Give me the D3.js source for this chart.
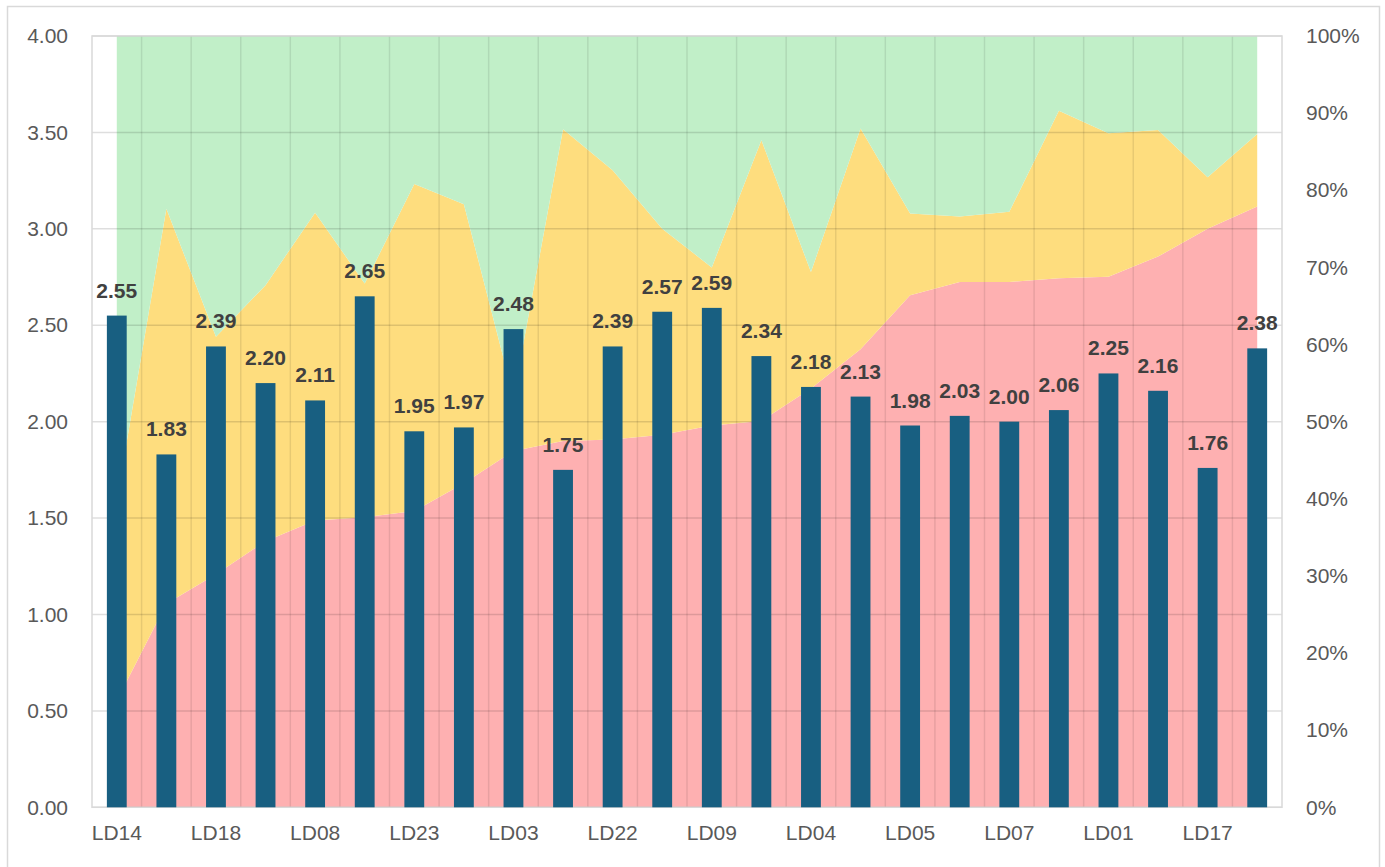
<!DOCTYPE html>
<html>
<head>
<meta charset="utf-8">
<script src="https://cdn.jsdelivr.net/npm/d3@7"></script>
<style>
  body { margin: 0; background: #fff; }
  svg { display: block; font-family: "Liberation Sans", Arial, sans-serif; }
</style>
</head>
<body>
<div id="container"></div>
<script>
let width = 1385;
let height = 867;

// categories (only every other one is labelled on the axis)
let categories = ["LD14", "LD02", "LD18", "LD06", "LD08", "LD10", "LD23", "LD11",
  "LD03", "LD12", "LD22", "LD13", "LD09", "LD15", "LD04", "LD16",
  "LD05", "LD19", "LD07", "LD20", "LD01", "LD21", "LD17", "LD24"];

// bar values (left axis)
let scores = [2.55, 1.83, 2.39, 2.20, 2.11, 2.65, 1.95, 1.97, 2.48, 1.75, 2.39, 2.57,
  2.59, 2.34, 2.18, 2.13, 1.98, 2.03, 2.00, 2.06, 2.25, 2.16, 1.76, 2.38];

// stacked shares in percent (right axis)
let redShare = [13.8, 26.4, 30.2, 34.5, 37.2, 37.6, 38.4, 42.0, 46.2, 47.5, 47.7, 48.3,
  49.5, 50.1, 54.3, 59.4, 66.4, 68.1, 68.1, 68.6, 68.8, 71.4, 75.0, 77.9];
let yellowShare = [26.0, 51.2, 30.8, 33.2, 39.9, 30.3, 42.4, 36.2, 7.0, 40.4, 34.9, 26.7,
  20.5, 36.4, 15.1, 28.6, 10.6, 8.5, 9.1, 21.7, 18.6, 16.4, 6.7, 9.4];
let greenShare = [60.2, 22.4, 39.0, 32.3, 22.9, 32.1, 19.2, 21.8, 46.8, 12.1, 17.4, 25.0,
  30.0, 13.5, 30.6, 12.0, 23.0, 23.4, 22.8, 9.7, 12.6, 12.2, 18.3, 12.7];

let leftTicks = [0, 0.5, 1, 1.5, 2, 2.5, 3, 3.5, 4];
let rightTicks = [0, 10, 20, 30, 40, 50, 60, 70, 80, 90, 100];

let margin = { left: 92, right: 103, top: 36, bottom: 60 };

let svg = d3.select("#container")
  .append("svg")
  .attr("width", width)
  .attr("height", height);

// chart border
svg.append("rect")
  .attr("x", 7.5).attr("y", 6.5)
  .attr("width", 1372).attr("height", 870)
  .attr("fill", "none")
  .attr("stroke", "#d9d9d9")
  .attr("stroke-width", 1.5);

let x = d3.scaleBand()
  .domain(categories)
  .range([margin.left, width - margin.right])
  .padding(0);

let yLeft = d3.scaleLinear()
  .domain([0, 4])
  .range([807.3, margin.top]);

let yRight = d3.scaleLinear()
  .domain([0, 100])
  .range([807.3, margin.top]);

let cx = function (c) { return x(c) + x.bandwidth() / 2 };

// stacked areas
let rows = categories.map(function (c, i) {
  return { cat: c, red: redShare[i], yellow: yellowShare[i], green: greenShare[i] };
});
let stack = d3.stack().keys(["red", "yellow", "green"]);
let layers = stack(rows);
let colors = { red: "#feb0b1", yellow: "#fedd7e", green: "#c1efc8" };

let area = d3.area()
  .x(function (d) { return cx(d.data.cat) })
  .y0(function (d) { return yRight(d[0]) })
  .y1(function (d) { return yRight(d[1]) });

svg.append("g")
  .selectAll("path")
  .data(layers)
  .enter().append("path")
  .attr("d", area)
  .attr("fill", function (d) { return colors[d.key] });

// gridlines
let grid = svg.append("g");
grid.selectAll("line.h")
  .data(leftTicks)
  .enter().append("line")
  .attr("x1", margin.left).attr("x2", width - margin.right)
  .attr("y1", function (d) { return yLeft(d) })
  .attr("y2", function (d) { return yLeft(d) })
  .attr("stroke", "rgba(0,0,0,0.13)")
  .attr("stroke-width", 1.5);

grid.selectAll("line.v")
  .data(categories.slice(1))
  .enter().append("line")
  .attr("x1", function (d) { return x(d) })
  .attr("x2", function (d) { return x(d) })
  .attr("y1", margin.top).attr("y2", yLeft(0))
  .attr("stroke", "rgba(0,0,0,0.09)")
  .attr("stroke-width", 1.5);

// plot border
svg.append("rect")
  .attr("x", margin.left).attr("y", margin.top)
  .attr("width", width - margin.right - margin.left)
  .attr("height", yLeft(0) - margin.top)
  .attr("fill", "none")
  .attr("stroke", "#d9d9d9")
  .attr("stroke-width", 1.5);

// bars
let barW = x.bandwidth() * 0.4;
svg.append("g")
  .selectAll("rect")
  .data(scores)
  .enter().append("rect")
  .attr("x", function (d, i) { return cx(categories[i]) - barW / 2 })
  .attr("y", function (d) { return yLeft(d) })
  .attr("width", barW)
  .attr("height", function (d) { return yLeft(0) - yLeft(d) })
  .attr("fill", "#185f81");

// data labels
svg.append("g")
  .selectAll("text")
  .data(scores)
  .enter().append("text")
  .attr("x", function (d, i) { return cx(categories[i]) })
  .attr("y", function (d) { return yLeft(d) - 18 })
  .attr("text-anchor", "middle")
  .style("font-size", "21px")
  .style("font-weight", "bold")
  .attr("fill", "#404040")
  .text(function (d) { return d.toFixed(2) });

// left axis
let leftAxis = d3.axisLeft(yLeft)
  .tickValues(leftTicks)
  .tickFormat(d3.format(".2f"))
  .tickSize(0)
  .tickPadding(24);
let gl = svg.append("g")
  .attr("transform", `translate(${margin.left},0)`)
  .call(leftAxis);

// right axis
let rightAxis = d3.axisRight(yRight)
  .tickValues(rightTicks)
  .tickFormat(function (d) { return d + "%" })
  .tickSize(0)
  .tickPadding(24);
let gr = svg.append("g")
  .attr("transform", `translate(${width - margin.right},0)`)
  .call(rightAxis);

// bottom axis
let bottomAxis = d3.axisBottom(x)
  .tickValues(categories.filter(function (c, i) { return i % 2 === 0 }))
  .tickSize(0)
  .tickPadding(18);
let gb = svg.append("g")
  .attr("transform", `translate(0,${yLeft(0)})`)
  .call(bottomAxis);

[gl, gr, gb].forEach(function (g) {
  g.select(".domain").remove();
  g.selectAll("text")
    .style("font-size", "21px")
    .style("font-family", "\"Liberation Sans\", Arial, sans-serif")
    .attr("fill", "#595959");
});
</script>
</body>
</html>
